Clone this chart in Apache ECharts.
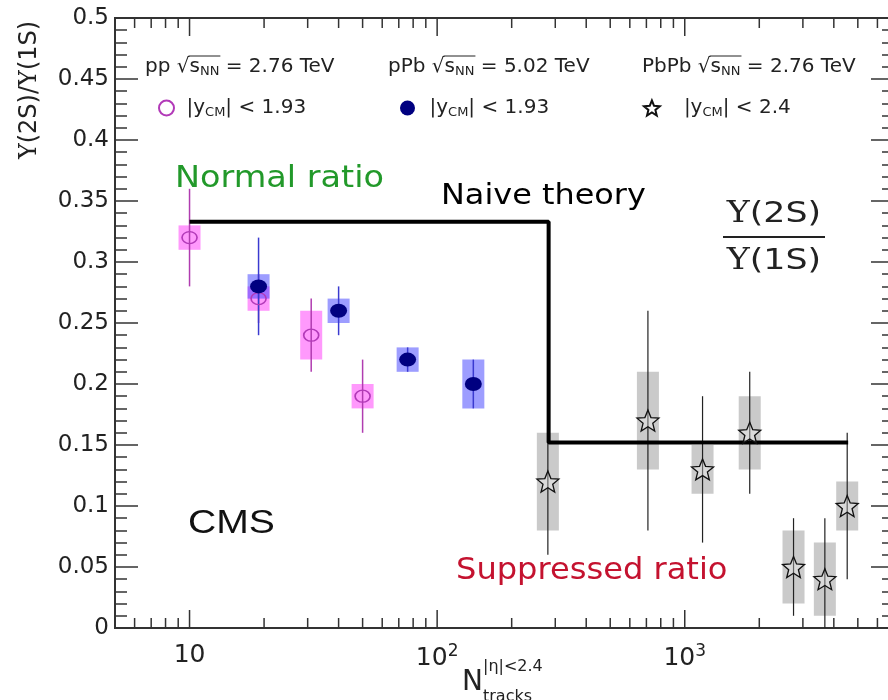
<!DOCTYPE html>
<html><head><meta charset="utf-8">
<script src="https://cdn.jsdelivr.net/npm/echarts@6/dist/echarts.min.js"></script>
<style>html,body{margin:0;padding:0;background:#fff;} #c{width:888px;height:700px;}</style>
</head><body><div id="c"></div>
<script>
// ---- data ----
const ppX = [10, 19, 31, 50];
const ppY = [0.32, 0.27, 0.24, 0.19];
const ppStatLo = [0.04, 0.02, 0.03, 0.03];
const ppStatHi = [0.04, 0.02, 0.03, 0.03];
const ppSys = [0.01, 0.01, 0.02, 0.01];

const pPbX = [19, 40, 76, 140];
const pPbY = [0.28, 0.26, 0.22, 0.20];
const pPbStatLo = [0.04, 0.02, 0.01, 0.02];
const pPbStatHi = [0.04, 0.02, 0.01, 0.02];
const pPbSys = [0.01, 0.01, 0.01, 0.02];

const PbPbX = [280, 710, 1180, 1830, 2750, 3680, 4530];
const PbPbY = [0.12, 0.17, 0.13, 0.16, 0.05, 0.04, 0.10];
const PbPbStatLo = [0.06, 0.09, 0.06, 0.05, 0.04, 0.04, 0.06];
const PbPbStatHi = [0.06, 0.09, 0.06, 0.05, 0.04, 0.05, 0.06];
const PbPbSys = [0.04, 0.04, 0.02, 0.03, 0.03, 0.03, 0.02];

const theoryX = [10, 282, 282, 4570];
const theoryY = [0.333, 0.333, 0.152, 0.152];

const xTickValues = [5,6,7,8,9,10,20,30,40,50,60,70,80,90,100,200,300,400,500,600,700,800,900,1000,2000,3000,4000,5000,6000,7000];
const xMajorTicks = [10, 100, 1000];

const seriesNames = ['pp', 'pPb', 'PbPb'];
const systemNames = ['pp', 'pPb', 'PbPb'];
const energies = ['2.76 TeV', '5.02 TeV', '2.76 TeV'];
const legendCuts = ['|y{sub|CM}| < 1.93', '|y{sub|CM}| < 1.93', '|y{sub|CM}| < 2.4'];

// ---- chart ----
const FONT = 'DejaVu Sans';
const chart = echarts.init(document.getElementById('c'), null, {renderer: 'canvas'});
const STAR = 'path://M0,-10 L2.6,-3.6 L9.51,-3.09 L4.2,1.36 L5.88,8.09 L0,4.4 L-5.88,8.09 L-4.2,1.36 L-9.51,-3.09 L-2.6,-3.6 Z';

function errItems(xs, ys, lo, hi, sys) { return xs.map((x, i) => [x, ys[i], lo[i], hi[i], sys[i]]); }
function errRender(boxColor, lineColor, lineW) {
  return function (params, api) {
    const x = api.value(0), y = api.value(1);
    const c = api.coord([x, y]);
    const t = api.coord([x, y + api.value(3)]);
    const b = api.coord([x, Math.max(0, y - api.value(2))]);
    const st = api.coord([x, y + api.value(4)]);
    const sb = api.coord([x, y - api.value(4)]);
    return {type: 'group', children: [
      {type: 'rect', shape: {x: c[0] - 11, y: st[1], width: 22, height: sb[1] - st[1]}, style: {fill: boxColor}},
      {type: 'line', shape: {x1: c[0], y1: t[1], x2: c[0], y2: b[1]}, style: {stroke: lineColor, lineWidth: lineW}}
    ]};
  };
}
function subRich(size) {
  return {sub: {fontFamily: FONT, fontSize: size, padding: [Math.round(size * 0.75), 0, 0, 0]}};
}

// text measuring for the sqrt overline in the headers
const mctx = document.createElement('canvas').getContext('2d');
function tw(t, size) { mctx.font = size + 'px "' + FONT + '"'; return mctx.measureText(t).width; }

const legendLefts = [153, 395, 638];
const legendPads = [5, 7, 17];
const headerX = [145, 388, 642];
const headerY = 67;

const headerGraphics = [];
systemNames.forEach((s, i) => {
  headerGraphics.push({type: 'text', x: headerX[i], y: headerY,
    style: {text: s + ' √s{sub|NN} = ' + energies[i], fontFamily: FONT, fontSize: 20, fill: '#222', align: 'left', verticalAlign: 'middle', rich: subRich(13)}});
  const x0 = headerX[i] + tw(s + ' √', 20);
  const x1 = x0 + tw('s', 20) + tw('NN', 13);
  headerGraphics.push({type: 'line', shape: {x1: x0 - 1, y1: headerY - 11, x2: x1 + 1, y2: headerY - 11}, style: {stroke: '#222', lineWidth: 1}});
});

const option = {
  animation: false,
  backgroundColor: '#fff',
  grid: {left: 115, right: -6, top: 18, bottom: 72, outerBoundsMode: 'none', containLabel: false,
    show: true, borderColor: '#333', borderWidth: 2, backgroundColor: 'transparent'},
  xAxis: {
    type: 'log', logBase: 10, min: 5, max: 7000,
    axisLine: {lineStyle: {color: '#333', width: 2}},
    axisTick: {show: false}, splitLine: {show: false},
    axisLabel: {
      fontFamily: FONT, fontSize: 25, color: '#222', margin: 15,
      formatter: function (v) {
        const l = Math.log10(v), e = Math.round(l);
        if (Math.abs(l - e) > 1e-6 || e < 1) return '';
        return e === 1 ? '10' : '10{sup|' + e + '}';
      },
      rich: {sup: {fontFamily: FONT, fontSize: 17, padding: [0, 0, 14, 0]}}
    }
  },
  yAxis: [
    {type: 'value', min: 0, max: 0.5, interval: 0.05, position: 'left',
      axisLine: {show: true, lineStyle: {color: '#333', width: 2}},
      axisTick: {show: true, inside: true, length: 23, lineStyle: {color: '#333', width: 1.5}},
      minorTick: {show: true, splitNumber: 5, length: 12, lineStyle: {color: '#333', width: 1.5}},
      splitLine: {show: false},
      axisLabel: {fontFamily: FONT, fontSize: 23, color: '#222', margin: 6}
    },
    {type: 'value', min: 0, max: 0.5, interval: 0.05, position: 'right',
      axisLine: {show: true, lineStyle: {color: '#333', width: 2}},
      axisTick: {show: true, inside: true, length: 23, lineStyle: {color: '#333', width: 1.5}},
      minorTick: {show: true, splitNumber: 5, length: 12, lineStyle: {color: '#333', width: 1.5}},
      splitLine: {show: false}, axisLabel: {show: false}
    }
  ],
  legend: seriesNames.map((n, i) => ({
    data: [n], left: legendLefts[i], top: 93, itemWidth: 20, itemHeight: 15,
    formatter: () => legendCuts[i],
    textStyle: {fontFamily: FONT, fontSize: 20, color: '#222', padding: [0, 0, 0, legendPads[i]], rich: subRich(13)}
  })),
  series: [
    {type: 'custom', name: 'ticks', silent: true, clip: false, z: 1,
      data: xTickValues.map(v => [v, 0]),
      renderItem: function (params, api) {
        const v = api.value(0);
        const len = xMajorTicks.indexOf(v) >= 0 ? 18 : 10;
        const b = api.coord([v, 0]), t = api.coord([v, 0.5]);
        return {type: 'group', children: [
          {type: 'line', shape: {x1: b[0], y1: b[1], x2: b[0], y2: b[1] - len}, style: {stroke: '#333', lineWidth: 1.5}},
          {type: 'line', shape: {x1: t[0], y1: t[1], x2: t[0], y2: t[1] + len}, style: {stroke: '#333', lineWidth: 1.5}}
        ]};
      }
    },
    {type: 'custom', name: 'ppErr', silent: true, z: 2, data: errItems(ppX, ppY, ppStatLo, ppStatHi, ppSys),
      renderItem: errRender('rgba(255,70,250,0.55)', '#b03cb0', 1.5)},
    {type: 'custom', name: 'pPbErr', silent: true, z: 2, data: errItems(pPbX, pPbY, pPbStatLo, pPbStatHi, pPbSys),
      renderItem: errRender('rgba(60,60,255,0.5)', '#3a3ad0', 1.5)},
    {type: 'custom', name: 'PbPbErr', silent: true, z: 2, data: errItems(PbPbX, PbPbY, PbPbStatLo, PbPbStatHi, PbPbSys),
      renderItem: errRender('rgba(150,150,150,0.5)', '#222', 1.2)},
    {type: 'line', name: 'Naive theory', z: 3, symbol: 'none', data: theoryX.map((x, i) => [x, theoryY[i]]),
      lineStyle: {color: '#000', width: 4}},
    {type: 'scatter', name: 'pp', z: 4, symbol: 'circle', symbolSize: [15, 12],
      itemStyle: {color: 'rgba(0,0,0,0)', borderColor: '#b23ab8', borderWidth: 1.5, opacity: 1},
      data: ppX.map((x, i) => [x, ppY[i]])},
    {type: 'scatter', name: 'pPb', z: 4, symbol: 'circle', symbolSize: [17, 14],
      itemStyle: {color: '#000080', opacity: 1},
      data: pPbX.map((x, i) => [x, pPbY[i]])},
    {type: 'scatter', name: 'PbPb', z: 4, symbol: STAR, symbolSize: [22, 21],
      itemStyle: {color: 'rgba(255,255,255,0.3)', borderColor: '#111', borderWidth: 1.3, opacity: 1},
      data: PbPbX.map((x, i) => [x, PbPbY[i]])}
  ],
  graphic: [
    {type: 'text', x: 30, y: 90, rotation: Math.PI / 2,
      style: {text: '{u|Υ}(2S)/{u|Υ}(1S)', fontFamily: FONT, fontSize: 24, fill: '#222', align: 'center', verticalAlign: 'middle',
        rich: {u: {fontFamily: 'DejaVu Serif', fontSize: 24}}}}
  ].concat(headerGraphics).concat([
    {type: 'text', x: 175, y: 179, scaleX: 1.08, style: {text: 'Normal ratio', fontFamily: FONT, fontSize: 31, fill: '#22992a', align: 'left', verticalAlign: 'middle'}},
    {type: 'text', x: 441, y: 196, scaleX: 1.1, style: {text: 'Naive theory', fontFamily: FONT, fontSize: 29, fill: '#000', align: 'left', verticalAlign: 'middle'}},
    {type: 'text', x: 456, y: 571, scaleX: 1.07, style: {text: 'Suppressed ratio', fontFamily: FONT, fontSize: 30, fill: '#c4122f', align: 'left', verticalAlign: 'middle'}},
    {type: 'text', x: 188, y: 524, scaleX: 1.15, style: {text: 'CMS', fontFamily: 'Liberation Sans', fontSize: 34, fill: '#111', align: 'left', verticalAlign: 'middle'}},
    {type: 'text', x: 774, y: 214, scaleX: 1.2, style: {text: '{u|Υ}(2S)', fontFamily: FONT, fontSize: 29, fill: '#222', align: 'center', verticalAlign: 'middle', rich: {u: {fontFamily: 'DejaVu Serif', fontSize: 29}}}},
    {type: 'line', shape: {x1: 723, y1: 237, x2: 825, y2: 237}, style: {stroke: '#222', lineWidth: 2}},
    {type: 'text', x: 774, y: 261, scaleX: 1.2, style: {text: '{u|Υ}(1S)', fontFamily: FONT, fontSize: 29, fill: '#222', align: 'center', verticalAlign: 'middle', rich: {u: {fontFamily: 'DejaVu Serif', fontSize: 29}}}},
    {type: 'text', x: 462, y: 683, style: {text: 'N', fontFamily: FONT, fontSize: 28, fill: '#222', align: 'left', verticalAlign: 'middle'}},
    {type: 'text', x: 483, y: 667, style: {text: '|η|<2.4', fontFamily: FONT, fontSize: 16, fill: '#222', align: 'left', verticalAlign: 'middle'}},
    {type: 'text', x: 483, y: 697, style: {text: 'tracks', fontFamily: FONT, fontSize: 16, fill: '#222', align: 'left', verticalAlign: 'middle'}}
  ])
};
chart.setOption(option);
</script>
</body></html>
